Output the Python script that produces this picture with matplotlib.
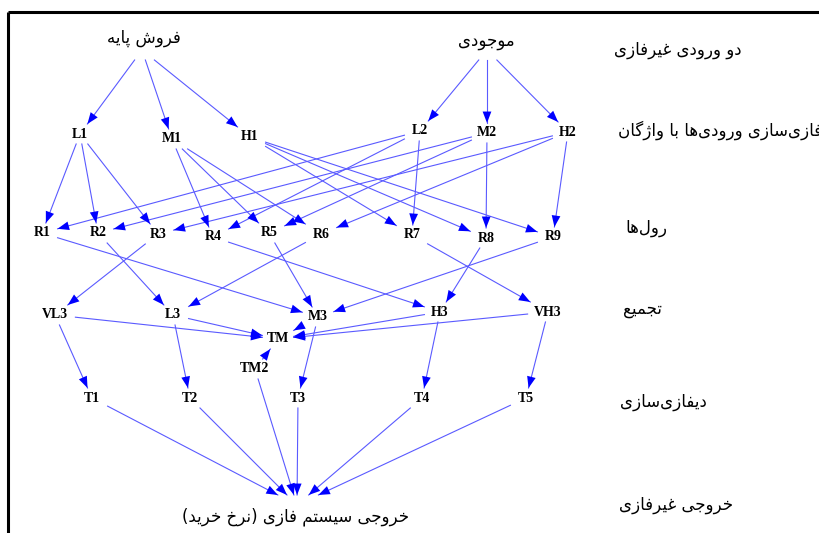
import matplotlib
matplotlib.use('Agg')
import matplotlib.pyplot as plt

# ---- graph data ----
inputs = ['فروش پایه', 'موجودی']
fuzzy_sets = ['L1', 'M1', 'H1', 'L2', 'M2', 'H2']
rules = ['R1', 'R2', 'R3', 'R4', 'R5', 'R6', 'R7', 'R8', 'R9']
aggregates = ['VL3', 'L3', 'M3', 'H3', 'VH3']
tm_nodes = ['TM', 'TM2']
defuzz = ['T1', 'T2', 'T3', 'T4', 'T5']
output = 'خروجی سیستم فازی (نرخ خرید)'

# rule antecedents (first input set, second input set)
rule_inputs = [('L1', 'L2'), ('L1', 'M2'), ('L1', 'H2'),
               ('M1', 'L2'), ('M1', 'M2'), ('M1', 'H2'),
               ('H1', 'L2'), ('H1', 'M2'), ('H1', 'H2')]
rule_outputs = ['M3', 'L3', 'VL3', 'H3', 'M3', 'L3', 'VH3', 'H3', 'M3']

stage_labels = ['دو ورودی غیرفازی', 'فازی‌سازی ورودی‌ها با واژگان', 'رول‌ها',
                'تجمیع', 'دیفازی‌سازی', 'خروجی غیرفازی']

# ---- layout (pixel coords) ----
pos = {
    'فروش پایه': (142, 50), 'موجودی': (487, 50),
    'L1': (80, 134), 'M1': (172, 139), 'H1': (250, 137),
    'L2': (420, 131), 'M2': (487, 133), 'H2': (568, 132),
    'R1': (42, 233), 'R2': (98, 233), 'R3': (158, 234), 'R4': (213, 237),
    'R5': (269, 233), 'R6': (321, 234), 'R7': (412, 235), 'R8': (486, 238),
    'R9': (553, 237),
    'VL3': (55, 315), 'L3': (173, 315), 'M3': (318, 317), 'H3': (440, 312),
    'VH3': (548, 312),
    'TM': (278, 339), 'TM2': (255, 369),
    'T1': (92, 398), 'T2': (190, 398), 'T3': (298, 398), 'T4': (422, 398),
    'T5': (526, 398),
    output: (297, 505),
}
text_pos = {'فروش پایه': (144, 38), 'موجودی': (486, 41), output: (296, 517)}
stage_pos = [(614, 50), (618, 130), (625, 228), (623, 309), (620, 402), (619, 505)]

# ---- simple persian shaping for matplotlib ----
FORMS = {
    'ا': ('\uFE8D', '\uFE8E', None, None),
    'ب': ('\uFE8F', '\uFE90', '\uFE91', '\uFE92'),
    'پ': ('\uFB56', '\uFB57', '\uFB58', '\uFB59'),
    'ت': ('\uFE95', '\uFE96', '\uFE97', '\uFE98'),
    'ج': ('\uFE9D', '\uFE9E', '\uFE9F', '\uFEA0'),
    'خ': ('\uFEA5', '\uFEA6', '\uFEA7', '\uFEA8'),
    'د': ('\uFEA9', '\uFEAA', None, None),
    'ر': ('\uFEAD', '\uFEAE', None, None),
    'ز': ('\uFEAF', '\uFEB0', None, None),
    'ژ': ('\uFB8A', '\uFB8B', None, None),
    'س': ('\uFEB1', '\uFEB2', '\uFEB3', '\uFEB4'),
    'ش': ('\uFEB5', '\uFEB6', '\uFEB7', '\uFEB8'),
    'ع': ('\uFEC9', '\uFECA', '\uFECB', '\uFECC'),
    'غ': ('\uFECD', '\uFECE', '\uFECF', '\uFED0'),
    'ف': ('\uFED1', '\uFED2', '\uFED3', '\uFED4'),
    'گ': ('\uFB92', '\uFB93', '\uFB94', '\uFB95'),
    'ل': ('\uFEDD', '\uFEDE', '\uFEDF', '\uFEE0'),
    'م': ('\uFEE1', '\uFEE2', '\uFEE3', '\uFEE4'),
    'ن': ('\uFEE5', '\uFEE6', '\uFEE7', '\uFEE8'),
    'ه': ('\uFEE9', '\uFEEA', '\uFEEB', '\uFEEC'),
    'و': ('\uFEED', '\uFEEE', None, None),
    'ی': ('\uFBFC', '\uFBFD', '\uFBFE', '\uFBFF'),
}


def fa(s):
    out = []
    for i, c in enumerate(s):
        if c not in FORMS:
            if c != '\u200c':
                out.append(c)
            continue
        prev = s[i - 1] if i > 0 else ''
        nxt = s[i + 1] if i + 1 < len(s) else ''
        pj = prev in FORMS and FORMS[prev][2] is not None
        nj = nxt in FORMS and FORMS[c][2] is not None
        f = FORMS[c]
        if pj and nj:
            out.append(f[3])
        elif pj:
            out.append(f[1])
        elif nj:
            out.append(f[2])
        else:
            out.append(f[0])
    r = ''.join(out)[::-1]
    return r.translate(str.maketrans('()', ')('))


def box(n):
    if n in text_pos:
        return 60, 10
    return 6 + 4.8 * len(n), 10


def clip(a, b):
    # point where segment a->b leaves the box around a
    (x0, y0), (x1, y1) = pos[a], pos[b]
    dx, dy = x1 - x0, y1 - y0
    hw, hh = box(a)
    t = min(hw / abs(dx) if dx else 1e9, hh / abs(dy) if dy else 1e9)
    return x0 + t * dx, y0 + t * dy


edges = []
for fs in fuzzy_sets[:3]:
    edges.append((inputs[0], fs))
for fs in fuzzy_sets[3:]:
    edges.append((inputs[1], fs))
for r, (a, b) in zip(rules, rule_inputs):
    edges.append((a, r))
    edges.append((b, r))
for r, o in zip(rules, rule_outputs):
    edges.append((r, o))
for a in aggregates:
    edges.append((a, 'TM'))
edges.append(('TM2', 'TM'))
for a, t in zip(aggregates, defuzz):
    edges.append((a, t))
for t in defuzz:
    edges.append((t, output))
edges.append(('TM2', output))

fig = plt.figure(figsize=(8.2, 5.33), dpi=100)
ax = fig.add_axes([0, 0, 1, 1])
ax.set_xlim(0, 820)
ax.set_ylim(533, 0)
ax.axis('off')

# frame
ax.plot([8, 820], [12, 12], color='black', lw=2.2, solid_capstyle='butt')
ax.plot([8, 8], [12, 533], color='black', lw=2.2, solid_capstyle='butt')

for a, b in edges:
    s = clip(a, b)
    e = clip(b, a)
    # light shaft + solid head
    ax.plot([s[0], e[0]], [s[1], e[1]], color='#5a5aff', lw=0.8)
    ax.annotate('', xy=e, xytext=s,
                arrowprops=dict(arrowstyle='-|>,head_length=0.55,head_width=0.21',
                                color='#0000ff', lw=0.0, mutation_scale=15,
                                shrinkA=0, shrinkB=0))

for n in fuzzy_sets + rules + aggregates + tm_nodes + defuzz:
    x, y = pos[n]
    ax.text(x, y, n, ha='center', va='center', fontsize=10,
            family='Liberation Serif', weight='bold', color='black')

for n in inputs + [output]:
    x, y = text_pos[n]
    ax.text(x, y, fa(n), ha='center', va='center', fontsize=12,
            family='DejaVu Sans', color='black')

for lab, (x, y) in zip(stage_labels, stage_pos):
    ax.text(x, y, fa(lab), ha='left', va='center', fontsize=12,
            family='DejaVu Sans', color='black')

fig.savefig('out.png', dpi=100)
